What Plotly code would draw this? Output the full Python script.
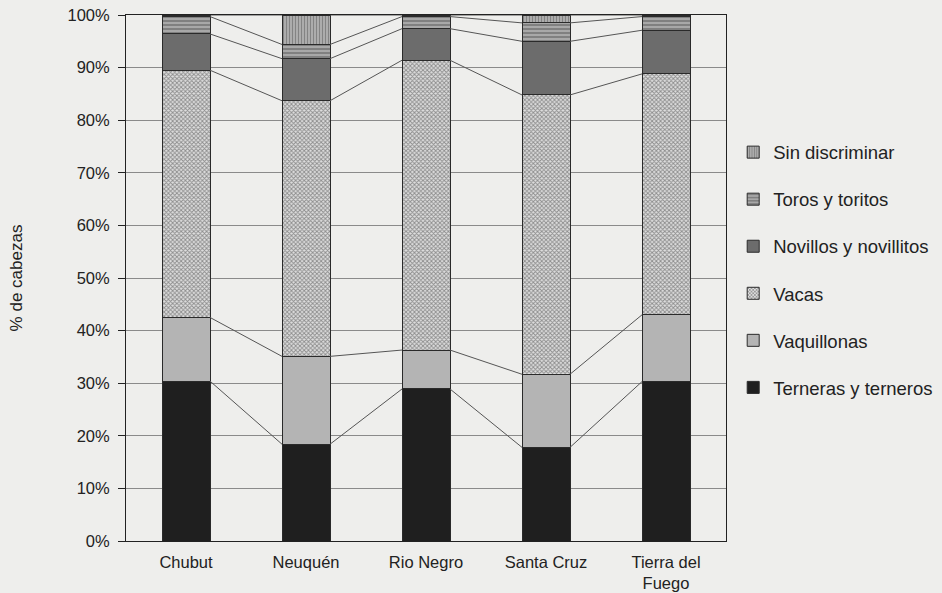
import plotly.graph_objects as go

provincias = ["Chubut", "Neuquén", "Rio Negro", "Santa Cruz", "Tierra del<br>Fuego"]
terneras = [30.4, 18.4, 28.9, 17.8, 30.3]
vaquillonas = [12.1, 16.7, 7.4, 13.9, 12.7]
vacas = [47.0, 48.6, 55.1, 53.1, 45.8]
novillos = [6.9, 8.0, 6.0, 10.2, 8.3]
toros = [3.3, 2.7, 2.3, 3.5, 2.6]
sin_discriminar = [0.3, 5.6, 0.3, 1.5, 0.3]
y_ticks = [0, 10, 20, 30, 40, 50, 60, 70, 80, 90, 100]

series = [
    ("Terneras y terneros", terneras, dict(color="#1f1f1f")),
    ("Vaquillonas", vaquillonas, dict(color="#b4b4b4")),
    ("Vacas", vacas, dict(color="#cfcfcf",
                           pattern=dict(shape="x", size=3, solidity=0.5,
                                        fgcolor="#3a3a3a", bgcolor="#dedede"))),
    ("Novillos y novillitos", novillos, dict(color="#6c6c6c")),
    ("Toros y toritos", toros, dict(color="#9a9a9a",
                                    pattern=dict(shape="-", size=4, solidity=0.4,
                                                 fgcolor="#444444", bgcolor="#a8a8a8"))),
    ("Sin discriminar", sin_discriminar, dict(color="#a0a0a0",
                                              pattern=dict(shape="|", size=3, solidity=0.4,
                                                           fgcolor="#555555", bgcolor="#b0b0b0"))),
]

x = list(range(len(provincias)))
bar_w = 0.4
bg = "#eeeeec"

fig = go.Figure()
cum = [0.0] * len(x)
cum_levels = []
n = len(series)
for k, (name, vals, mk) in enumerate(series):
    mk = dict(mk)
    mk["line"] = dict(color="#2a2a2a", width=1)
    fig.add_trace(go.Bar(x=x, y=vals, name=name, marker=mk, width=bar_w,
                         legendgroup=name, legendrank=n - k))
    cum = [c + v for c, v in zip(cum, vals)]
    cum_levels.append(list(cum))

# series connector lines
lx, ly = [], []
for level in cum_levels:
    for i in range(len(x) - 1):
        lx += [x[i] + bar_w / 2, x[i + 1] - bar_w / 2, None]
        ly += [level[i], level[i + 1], None]
fig.add_trace(go.Scatter(x=lx, y=ly, mode="lines", showlegend=False,
                         line=dict(color="#555555", width=1), hoverinfo="skip"))

fig.update_layout(
    barmode="stack",
    width=942, height=593,
    paper_bgcolor=bg, plot_bgcolor=bg,
    margin=dict(l=126, r=216, t=15, b=52, autoexpand=False),
    font=dict(family="Liberation Sans, Arial, sans-serif", size=16, color="#222222"),
    showlegend=True,
    legend=dict(x=1.012, y=0.515, xanchor="left", yanchor="middle",
                traceorder="grouped", tracegroupgap=20,
                bgcolor="rgba(0,0,0,0)", font=dict(size=18.5, color="#222222"),
                itemwidth=30),
)
fig.update_xaxes(range=[-0.5, 4.5], tickmode="array", tickvals=x, ticktext=provincias,
                 showline=True, linecolor="#222222", linewidth=1, mirror=True,
                 showgrid=False, ticks="", ticklen=0, tickfont=dict(size=16.5),
                 ticklabelstandoff=6, automargin=False)
fig.update_yaxes(range=[0, 100], tickmode="array", tickvals=y_ticks,
                 ticktext=[f"{v}%" for v in y_ticks],
                 showline=True, linecolor="#222222", linewidth=1, mirror=True,
                 showgrid=True, gridcolor="#8a8a8a", gridwidth=1,
                 ticks="outside", ticklen=7, tickcolor="#222222",
                 tickfont=dict(size=16.5), ticklabelstandoff=5,
                 title=dict(text="% de cabezas", standoff=40, font=dict(size=17)),
                 zeroline=False, automargin=False)

fig.write_html("out.html", config={"displayModeBar": False},
               post_script="document.body.style.margin='0px';")
